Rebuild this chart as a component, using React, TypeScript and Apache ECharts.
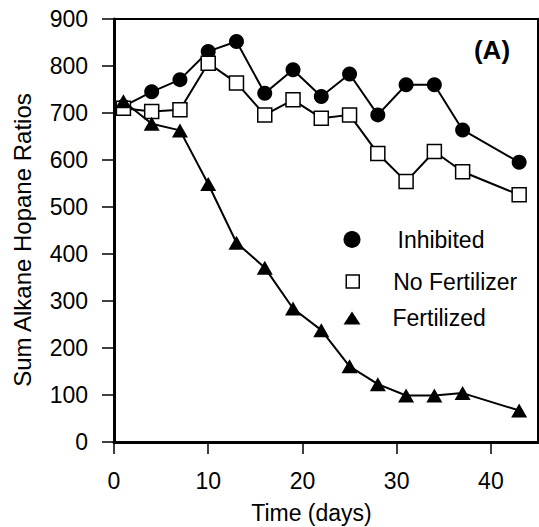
import React, { useEffect, useRef } from "react";
import * as echarts from "echarts";

const days = [1, 4, 7, 10, 13, 16, 19, 22, 25, 28, 31, 34, 37, 43];
const inhibited = [714, 745, 771, 831, 852, 742, 792, 735, 783, 696, 760, 760, 664, 595];
const noFertilizer = [710, 703, 707, 806, 764, 696, 728, 689, 696, 614, 554, 618, 575, 526];
const fertilized = [725, 677, 663, 549, 424, 371, 284, 238, 161, 123, 99, 99, 104, 67];
const xTicks = [0, 10, 20, 30, 40];
const seriesNames = ["Inhibited", "No Fertilizer", "Fertilized"];

const FONT = "'Liberation Sans', Arial, Helvetica, sans-serif";

export default function App() {
  const ref = useRef<HTMLDivElement>(null);
  useEffect(() => {
    document.body.style.margin = "0";
    if (!ref.current) return;
    const chart = echarts.init(ref.current, undefined, { renderer: "svg" });
    const pairs = (vals: number[]) => days.map((d, i) => [d, vals[i]]);
    const legendText = (padLeft: number) => ({
      color: "#000",
      fontSize: 23,
      lineHeight: 23,
      fontFamily: FONT,
      padding: [0, 0, 0, padLeft],
    });
    const option: any = {
      animation: false,
      textStyle: { fontFamily: FONT, color: "#000" },
      grid: {
        left: 114,
        top: 19,
        right: 1,
        bottom: 85,
        containLabel: false,
        outerBoundsMode: "none",
        show: true,
        borderColor: "#000",
        borderWidth: 2,
        backgroundColor: "transparent",
      },
      xAxis: {
        type: "value",
        min: 0,
        max: 45,
        interval: 10,
        name: "Time (days)",
        nameLocation: "middle",
        nameGap: 59,
        nameMoveOverlap: false,
        nameTextStyle: { fontSize: 23, color: "#000", fontFamily: FONT, padding: [0, 29, 0, 0] },
        axisLine: { lineStyle: { color: "#000", width: 3 } },
        axisTick: { length: 12, lineStyle: { color: "#000", width: 1.5 }, customValues: xTicks },
        axisLabel: {
          margin: 27,
          fontSize: 23,
          color: "#000",
          fontFamily: FONT,
          customValues: xTicks,
          formatter: (v: number) => (xTicks.indexOf(v) >= 0 ? String(v) : ""),
        },
        splitLine: { show: false },
      },
      yAxis: {
        type: "value",
        min: 0,
        max: 900,
        interval: 100,
        name: "Sum Alkane Hopane Ratios",
        nameLocation: "middle",
        nameGap: 80,
        nameMoveOverlap: false,
        nameTextStyle: { fontSize: 24, color: "#000", fontFamily: FONT, padding: [0, 19, 0, 0] },
        axisLine: { lineStyle: { color: "#000", width: 3 } },
        axisTick: { length: 12, lineStyle: { color: "#000", width: 1.5 } },
        axisLabel: { margin: 26, fontSize: 23, color: "#000", fontFamily: FONT },
        splitLine: { show: false },
      },
      legend: [
        {
          data: [{ name: seriesNames[0], icon: "circle", itemStyle: { color: "#000" } }],
          left: 343.5,
          top: 228,
          padding: 0,
          itemWidth: 17,
          itemHeight: 17,
          selectedMode: false,
          textStyle: legendText(32),
        },
        {
          data: [
            {
              name: seriesNames[1],
              icon: "rect",
              itemStyle: { color: "#fff", borderColor: "#000", borderWidth: 1.5 },
            },
          ],
          left: 345.5,
          top: 270,
          padding: 0,
          itemWidth: 13,
          itemHeight: 13,
          selectedMode: false,
          textStyle: legendText(29),
        },
        {
          data: [{ name: seriesNames[2], icon: "triangle", itemStyle: { color: "#000" } }],
          left: 343.5,
          top: 306.5,
          padding: 0,
          itemWidth: 17,
          itemHeight: 13,
          selectedMode: false,
          textStyle: legendText(27),
        },
      ],
      graphic: [
        {
          type: "text",
          x: 492,
          y: 50,
          style: {
            text: "(A)",
            fontSize: 26,
            fontWeight: "bold",
            fontFamily: FONT,
            fill: "#000",
            align: "center",
            verticalAlign: "middle",
          },
        },
      ],
      series: [
        {
          name: seriesNames[0],
          type: "line",
          data: pairs(inhibited),
          symbol: "circle",
          symbolSize: 15,
          itemStyle: { color: "#000" },
          lineStyle: { color: "#000", width: 2 },
          z: 2,
        },
        {
          name: seriesNames[1],
          type: "line",
          data: pairs(noFertilizer),
          symbol: "rect",
          symbolSize: 14,
          itemStyle: { color: "#fff", borderColor: "#000", borderWidth: 1.5 },
          lineStyle: { color: "#000", width: 2 },
          z: 3,
        },
        {
          name: seriesNames[2],
          type: "line",
          data: pairs(fertilized),
          symbol: "triangle",
          symbolSize: [16, 14],
          itemStyle: { color: "#000" },
          lineStyle: { color: "#000", width: 2 },
          z: 4,
        },
      ],
    };
    chart.setOption(option);
    return () => chart.dispose();
  }, []);
  return <div ref={ref} style={{ width: 539, height: 527 }} />;
}
